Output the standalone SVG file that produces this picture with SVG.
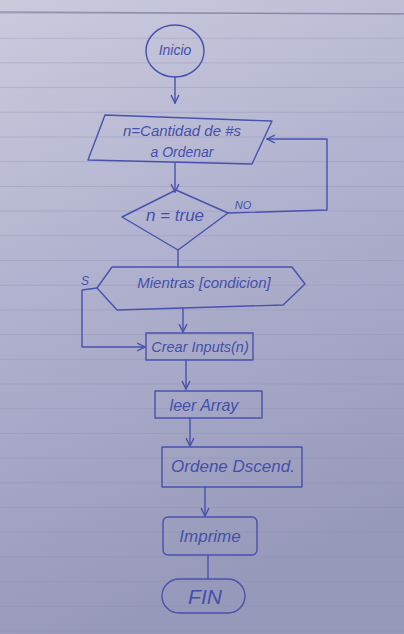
<svg xmlns="http://www.w3.org/2000/svg" width="404" height="634" viewBox="0 0 404 634">
<defs>
<linearGradient id="paper" x1="0" y1="0" x2="0.25" y2="1">
<stop offset="0" stop-color="#cbcbde"/>
<stop offset="0.45" stop-color="#b1b2cf"/>
<stop offset="1" stop-color="#9799ba"/>
</linearGradient>
<pattern id="rules" x="0" y="13" width="404" height="24.7" patternUnits="userSpaceOnUse">
<line x1="0" y1="0.5" x2="404" y2="0.5" stroke="#8a8cab" stroke-width="1" stroke-opacity="0.35"/>
</pattern>
<marker id="arr" viewBox="0 0 10 10" refX="9" refY="5" markerWidth="7" markerHeight="7" orient="auto">
<path d="M1,1 L9,5 L1,9" fill="none" stroke="#4852ad" stroke-width="1.4"/>
</marker>
</defs>
<style>
.pen{fill:none;stroke:#4852ad;stroke-width:1.4;stroke-linejoin:round;stroke-linecap:round}
.t{font-family:"Liberation Sans",sans-serif;font-style:italic;fill:#4450aa;text-anchor:middle;dominant-baseline:central}
</style>
<rect x="0" y="0" width="404" height="634" fill="url(#paper)"/>
<rect x="0" y="0" width="404" height="634" fill="url(#rules)"/>
<line x1="0" y1="12" x2="404" y2="14" stroke="#6d6f92" stroke-width="1.5" stroke-opacity="0.6"/>

<g id="connectors">
<line class="pen" x1="175" y1="77" x2="175" y2="103" marker-end="url(#arr)"/>
<line class="pen" x1="175" y1="163" x2="175" y2="192" marker-end="url(#arr)"/>
<polyline class="pen" points="228,213 327,210 327,139 267,139" marker-end="url(#arr)"/>
<line class="pen" x1="178" y1="250" x2="178" y2="267"/>
<polyline class="pen" points="97,288 82,290 82,347 145,347" marker-end="url(#arr)"/>
<line class="pen" x1="183" y1="308" x2="183" y2="332" marker-end="url(#arr)"/>
<line class="pen" x1="186" y1="360" x2="186" y2="389" marker-end="url(#arr)"/>
<line class="pen" x1="190" y1="418" x2="190" y2="446" marker-end="url(#arr)"/>
<line class="pen" x1="205" y1="487" x2="205" y2="516" marker-end="url(#arr)"/>
<line class="pen" x1="208" y1="555" x2="208" y2="579"/>
<text class="t" x="243" y="205" style="font-size:11px">NO</text>
<text class="t" x="85" y="281" style="font-size:12px">S</text>
</g>

<g id="inicio">
<ellipse class="pen" cx="175" cy="51" rx="29" ry="26"/>
<text class="t" x="175" y="50" style="font-size:14px">Inicio</text>
</g>
<g id="entrada">
<polygon class="pen" points="105,115 272,121 252,164 88,160"/>
<text class="t" x="182" y="130" style="font-size:15px">n=Cantidad de #s</text>
<text class="t" x="182" y="152" style="font-size:14px">a Ordenar</text>
</g>
<g id="decision">
<polygon class="pen" points="176,190 228,213 178,250 122,217"/>
<text class="t" x="175" y="215" style="font-size:17px">n = true</text>
</g>
<g id="mientras">
<polygon class="pen" points="112,267 292,267 305,284 283,305 117,310 97,288"/>
<text class="t" x="204" y="282" style="font-size:15px">Mientras [condicion]</text>
</g>
<g id="crear">
<rect class="pen" x="146" y="333" width="107" height="27"/>
<text class="t" x="200" y="347" style="font-size:14.5px">Crear Inputs(n)</text>
</g>
<g id="leer">
<rect class="pen" x="155" y="391" width="107" height="27"/>
<text class="t" x="204" y="405" style="font-size:16px">leer Array</text>
</g>
<g id="ordene">
<rect class="pen" x="162" y="447" width="140" height="40"/>
<text class="t" x="233" y="466" style="font-size:17px">Ordene Dscend.</text>
</g>
<g id="imprime">
<rect class="pen" x="163" y="517" width="94" height="38" rx="5"/>
<text class="t" x="210" y="536" style="font-size:17px">Imprime</text>
</g>
<g id="fin">
<rect class="pen" x="162" y="579" width="83" height="34" rx="17"/>
<text class="t" x="205" y="596" style="font-size:21px">FIN</text>
</g>
</svg>
